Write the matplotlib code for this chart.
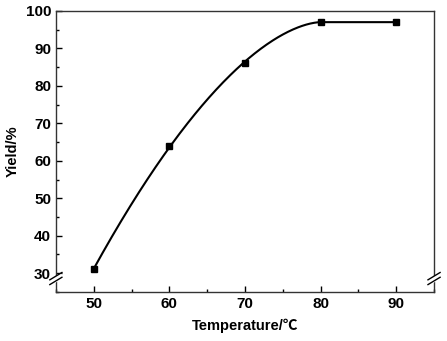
import matplotlib
matplotlib.use("Agg")
import matplotlib.pyplot as plt
import numpy as np
from matplotlib.ticker import MultipleLocator

# data
temperature = [50, 60, 70, 80, 90]
yield_pct = [31, 64, 86, 97, 97]


def plateau_fit(x, y):
    # y = ymax - k*(xp - x)**p below the plateau start xp, flat after it
    x = np.asarray(x, float)
    y = np.asarray(y, float)
    ymax = y[-2:].mean()
    xp = x[np.argmax(y)]
    m = x < xp
    best = None
    for p in np.linspace(1.0, 3.0, 201):
        g = (xp - x[m]) ** p
        k = np.sum(g * (ymax - y[m])) / np.sum(g * g)
        err = np.sum((ymax - k * g - y[m]) ** 2)
        if best is None or err < best[0]:
            best = (err, p, k)
    _, p, k = best
    return lambda t: np.where(t < xp, ymax - k * np.clip(xp - t, 0, None) ** p, ymax)


plt.rcParams['font.family'] = ['Liberation Sans', 'Noto Sans CJK SC', 'DejaVu Sans']
plt.rcParams['font.weight'] = 'bold'

fig = plt.figure(figsize=(4.47, 3.41), dpi=100)
ax = fig.add_axes([0.125, 0.144, 0.846, 0.824])

f = plateau_fit(temperature, yield_pct)
xs = np.linspace(temperature[0], temperature[-1], 300)
ax.plot(xs, f(xs), '-k', lw=1.5)
ax.plot(temperature, yield_pct, 'ks', ms=4.5)

ax.set_xlim(45, 95)
ax.set_ylim(25, 100)
ax.xaxis.set_minor_locator(MultipleLocator(5))
ax.yaxis.set_minor_locator(MultipleLocator(5))
ax.set_xticks([50, 60, 70, 80, 90])
ax.set_yticks([30, 40, 50, 60, 70, 80, 90, 100])
ax.tick_params(which='both', direction='in', top=False, right=False, width=1)
ax.tick_params(which='major', length=4, labelsize=11)
ax.tick_params(which='minor', length=2.5)
for s in ax.spines.values():
    s.set_linewidth(1)
    s.set_color('#333333')

ax.set_xlabel('Temperature/℃', fontsize=10.5, fontweight='bold', labelpad=6)
ax.set_ylabel('Yield/%', fontsize=10.5, fontweight='bold', labelpad=4)

# axis break marks
for xb in (0, 1):
    ax.fill_between([xb - 0.012, xb + 0.012], [0.030, 0.048], [0.047, 0.065],
                    color='white', transform=ax.transAxes, clip_on=False, zorder=5)
    for dy in (0.030, 0.047):
        ax.plot([xb - 0.016, xb + 0.016], [dy - 0.004, dy + 0.022], '-k', lw=1,
                transform=ax.transAxes, clip_on=False, zorder=6)

fig.savefig("out.png", dpi=100)
